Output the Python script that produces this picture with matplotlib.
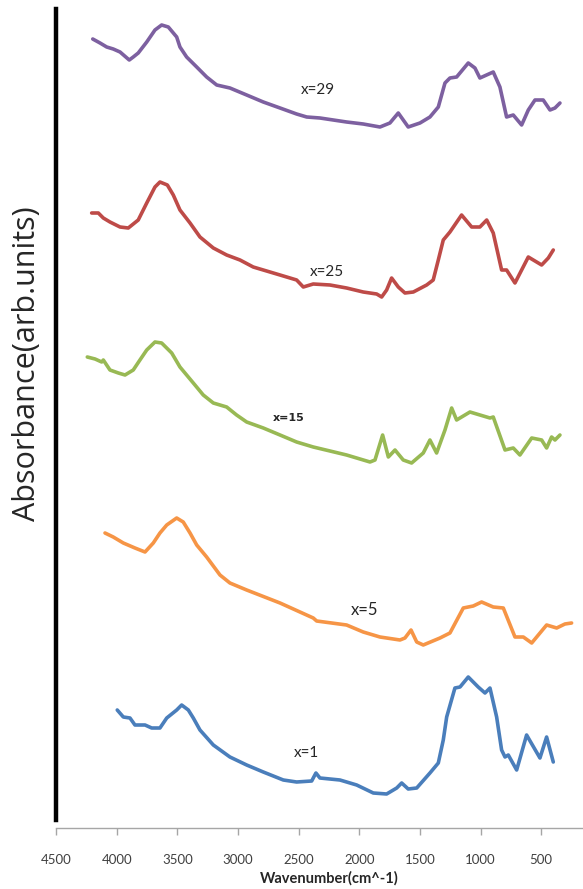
import matplotlib
matplotlib.use("Agg")
import matplotlib.pyplot as plt

# ---- data (wavenumber in cm^-1, absorbance in arb. units, stacked) ----
w29 = [4197, 4137, 4082, 4028, 3972, 3896, 3863, 3822, 3752, 3684, 3629, 3574, 3505, 3478, 3423,
       3340, 3258, 3175, 3066, 2928, 2791, 2653, 2516, 2433, 2324, 2104, 1967, 1829, 1747, 1678,
       1637, 1596, 1499, 1417, 1348, 1293, 1252, 1197, 1101, 1046, 1005, 895, 840, 785, 730, 661,
       606, 551, 483, 427, 386, 345]
a29 = [7.89, 7.85, 7.81, 7.79, 7.76, 7.68, 7.71, 7.75, 7.86, 7.98, 8.03, 8.01, 7.91, 7.81, 7.71,
       7.61, 7.51, 7.43, 7.40, 7.33, 7.26, 7.20, 7.14, 7.11, 7.10, 7.06, 7.04, 7.01, 7.05, 7.15,
       7.08, 7.01, 7.05, 7.11, 7.21, 7.45, 7.50, 7.51, 7.65, 7.60, 7.50, 7.56, 7.41, 7.11, 7.13, 7.03,
       7.18, 7.28, 7.28, 7.18, 7.20, 7.25]

w25 = [4206, 4151, 4110, 4055, 3972, 3904, 3822, 3752, 3684, 3643, 3582, 3533, 3478, 3395, 3313,
       3203, 3093, 2983, 2874, 2653, 2516, 2461, 2379, 2241, 2104, 1967, 1856, 1815, 1774, 1733,
       1678, 1623, 1554, 1444, 1390, 1348, 1307, 1252, 1156, 1073, 1005, 949, 895, 826, 785, 716,
       661, 606, 496, 441, 400]
a25 = [6.15, 6.15, 6.10, 6.06, 6.01, 6.00, 6.08, 6.25, 6.41, 6.46, 6.43, 6.33, 6.18, 6.05, 5.91,
       5.80, 5.73, 5.68, 5.61, 5.53, 5.48, 5.41, 5.44, 5.43, 5.40, 5.36, 5.34, 5.31, 5.38, 5.50,
       5.41, 5.35, 5.36, 5.43, 5.48, 5.68, 5.88, 5.96, 6.13, 6.01, 6.01, 6.08, 5.95, 5.58, 5.58, 5.45,
       5.58, 5.71, 5.63, 5.70, 5.78]

w15 = [4242, 4178, 4123, 4110, 4055, 3986, 3931, 3863, 3808, 3752, 3684, 3629, 3546, 3478, 3368,
       3286, 3203, 3093, 3011, 2928, 2791, 2653, 2516, 2379, 2241, 2104, 1911, 1870, 1807, 1760,
       1705, 1637, 1568, 1472, 1417, 1362, 1293, 1238, 1197, 1087, 922, 895, 798, 730, 675, 578,
       496, 455, 414, 386, 345]
a15 = [4.71, 4.69, 4.66, 4.68, 4.58, 4.55, 4.53, 4.58, 4.68, 4.78, 4.86, 4.85, 4.75, 4.61, 4.45,
       4.33, 4.25, 4.21, 4.13, 4.06, 4.00, 3.93, 3.86, 3.81, 3.77, 3.73, 3.66, 3.68, 3.93, 3.71,
       3.78, 3.68, 3.65, 3.75, 3.88, 3.75, 3.98, 4.20, 4.08, 4.16, 4.10, 4.11, 3.78, 3.80, 3.73, 3.90,
       3.88, 3.80, 3.91, 3.88, 3.93]

w5 = [4096, 4028, 3945, 3849, 3766, 3698, 3643, 3587, 3505, 3451, 3395, 3340, 3258, 3148, 3066,
      2928, 2653, 2379, 2351, 2104, 1967, 1829, 1664, 1623, 1573, 1526, 1472, 1334, 1252, 1142,
      1060, 991, 895, 812, 716, 647, 578, 455, 372, 304, 249]
a5 = [2.95, 2.91, 2.85, 2.80, 2.76, 2.85, 2.95, 3.03, 3.10, 3.06, 2.95, 2.83, 2.71, 2.53, 2.45,
      2.38, 2.25, 2.10, 2.07, 2.03, 1.96, 1.91, 1.88, 1.90, 1.98, 1.86, 1.83, 1.90, 1.95, 2.20,
      2.22, 2.26, 2.21, 2.20, 1.91, 1.91, 1.85, 2.03, 2.00, 2.04, 2.05]

w1 = [3995, 3945, 3890, 3849, 3766, 3711, 3643, 3587, 3505, 3464, 3409, 3368, 3313, 3203, 3066,
      2928, 2791, 2626, 2516, 2392, 2357, 2324, 2159, 2021, 1884, 1774, 1691, 1650, 1596, 1526,
      1417, 1348, 1307, 1279, 1211, 1169, 1101, 1019, 963, 922, 867, 826, 798, 771, 702, 620,
      510, 455, 400]
a1 = [1.18, 1.11, 1.10, 1.03, 1.03, 1.00, 1.00, 1.10, 1.18, 1.23, 1.18, 1.10, 0.98, 0.83, 0.71,
      0.63, 0.56, 0.48, 0.46, 0.47, 0.55, 0.50, 0.48, 0.43, 0.35, 0.34, 0.40, 0.45, 0.39, 0.40,
      0.55, 0.65, 0.88, 1.11, 1.40, 1.41, 1.51, 1.41, 1.35, 1.40, 1.11, 0.78, 0.71, 0.73, 0.58, 0.93,
      0.70, 0.91, 0.66]

labels = ["x=29", "x=25", "x=15", "x=5", "x=1"]
label_w = [2340, 2266, 2579, 1953, 2439]
label_a = [7.38, 5.56, 4.10, 2.18, 0.75]
xticks = [4500, 4000, 3500, 3000, 2500, 2000, 1500, 1000, 500]

# ---- styling ----
colors = ["#7D60A0", "#BE4B48", "#98B954", "#F69546", "#4A7EBB"]
series = [(w29, a29), (w25, a25), (w15, a15), (w5, a5), (w1, a1)]

plt.rcParams['font.family'] = ['Lato', 'DejaVu Sans']

fig = plt.figure(figsize=(5.83, 8.89), dpi=100)
ax = fig.add_axes([56 / 583, 61 / 889, 527 / 583, 828 / 889])

for (w, a), c in zip(series, colors):
    ax.plot(w, a, color=c, lw=2.6, solid_joinstyle='round', solid_capstyle='round')

lab_sizes = [11, 11, 8, 12, 11]
lab_weights = ['normal', 'normal', 'bold', 'normal', 'normal']
lab_fam = [['Lato'], ['Lato'], ['DejaVu Sans'], ['Lato'], ['Lato']]
for t, x, y, s, fw, fam in zip(labels, label_w, label_a, lab_sizes, lab_weights, lab_fam):
    ax.text(x, y, t, fontsize=s, fontweight=fw, family=fam, color='#262626',
            ha='center', va='center')

ax.set_xlim(4500, 155)
ax.set_ylim(0, 8.28)
ax.set_xticks(xticks)
ax.set_xticklabels([str(v) for v in xticks], fontsize=9.5, color='#404040')
ax.set_yticks([])
ax.tick_params(axis='x', direction='out', length=5, width=1, color='#A6A6A6', pad=14)

for s in ['top', 'right']:
    ax.spines[s].set_visible(False)
ax.spines['bottom'].set_color('#A6A6A6')
ax.spines['bottom'].set_linewidth(1)
ax.spines['left'].set_color('black')
ax.spines['left'].set_linewidth(3.2)
ax.spines['left'].set_bounds(0.08, 8.19)

ax.set_xlabel("Wavenumber(cm^-1)", fontsize=10.5, fontweight='bold', color='#262626')
ax.xaxis.set_label_coords((329 - 56) / 527, (828 - 871) / 828)
ax.set_ylabel("Absorbance(arb.units)", fontsize=22, color='#262626',
              family=['Open Sans', 'DejaVu Sans'])
ax.yaxis.set_label_coords(-(56 - 27) / 527, (828 - 364) / 828)
ax.yaxis.label.set_va('center')

fig.savefig("out.png", dpi=100)
